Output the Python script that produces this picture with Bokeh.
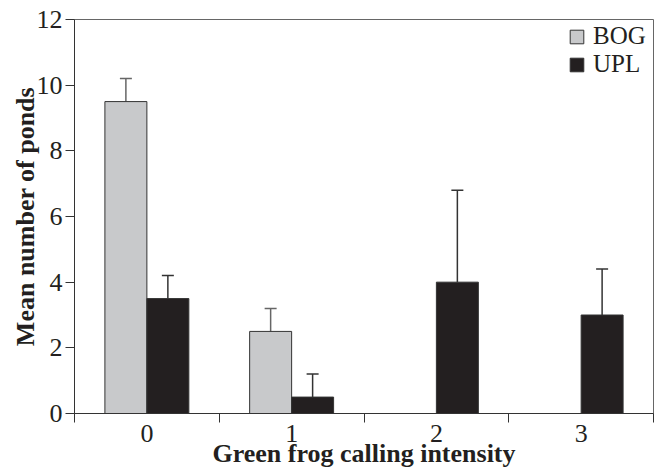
from bokeh.plotting import figure
from bokeh.models import (ColumnDataSource, Whisker, FixedTicker, TeeHead,
                          Legend, LegendItem, Range1d)
from bokeh.embed import file_html
from bokeh.resources import INLINE

# ---- data ----
categories = [0, 1, 2, 3]
tick_labels = ["0", "1", "2", "3"]
bog_mean = [9.5, 2.5, 0.0, 0.0]
bog_err = [0.7, 0.7, 0.0, 0.0]
upl_mean = [3.5, 0.5, 4.0, 3.0]
upl_err = [0.7, 0.7, 2.8, 1.4]
y_ticks = [0, 2, 4, 6, 8, 10, 12]

FONT = "Liberation Serif"
BOG_COLOR = "#c8c9cb"
UPL_COLOR = "#231f20"
OFF = 0.145
BW = 0.29

p = figure(frame_width=579, frame_height=394,
           x_range=Range1d(-0.5, 3.5), y_range=Range1d(0, 12),
           output_backend="svg", toolbar_location=None,
           min_border_left=74, min_border_top=19, min_border_right=4,
           min_border_bottom=10)

bog_src = ColumnDataSource(dict(
    x=[c - OFF for c in categories], top=bog_mean))
upl_src = ColumnDataSource(dict(
    x=[c + OFF for c in categories], top=upl_mean))

r_bog = p.vbar(x="x", top="top", width=BW, source=bog_src,
               fill_color=BOG_COLOR, line_color="#333333", line_width=1)
r_upl = p.vbar(x="x", top="top", width=BW, source=upl_src,
               fill_color=UPL_COLOR, line_color="#333333", line_width=1)

# error bars (only where a bar exists)
bog_w = ColumnDataSource(dict(
    x=[c - OFF for c, m in zip(categories, bog_mean) if m > 0],
    lower=[m for m in bog_mean if m > 0],
    upper=[m + e for m, e in zip(bog_mean, bog_err) if m > 0]))
upl_w = ColumnDataSource(dict(
    x=[c + OFF for c, m in zip(categories, upl_mean) if m > 0],
    lower=[m for m in upl_mean if m > 0],
    upper=[m + e for m, e in zip(upl_mean, upl_err) if m > 0]))
for src, col in ((bog_w, "#666666"), (upl_w, "#333333")):
    w = Whisker(base="x", lower="lower", upper="upper", source=src,
                line_color=col, line_width=1.5,
                upper_head=TeeHead(size=12, line_color=col, line_width=1.5),
                lower_head=None)
    p.add_layout(w)

# axes
p.xgrid.visible = False
p.ygrid.visible = False
p.outline_line_color = "#666666"
p.outline_line_width = 1

xa = p.xaxis[0]
xa.ticker = FixedTicker(ticks=categories,
                        minor_ticks=[c - 0.5 for c in categories] + [categories[-1] + 0.5])
xa.major_label_overrides = {c: t for c, t in zip(categories, tick_labels)}
xa.major_tick_out = 0
xa.major_tick_in = 0
xa.minor_tick_out = 9
xa.minor_tick_in = 0
xa.minor_tick_line_color = "#333333"
xa.axis_line_color = "#333333"
xa.major_label_standoff = 2
xa.major_label_text_font = FONT
xa.major_label_text_font_size = "26px"
xa.major_label_text_color = "#231f20"
xa.axis_label = "Green frog calling intensity"
xa.axis_label_text_font = FONT
xa.axis_label_text_font_size = "26px"
xa.axis_label_text_font_style = "bold"
xa.axis_label_text_color = "#231f20"
xa.axis_label_standoff = -6

ya = p.yaxis[0]
ya.ticker = FixedTicker(ticks=y_ticks)
ya.major_tick_out = 9
ya.major_tick_in = 0
ya.minor_tick_out = 0
ya.minor_tick_in = 0
ya.major_tick_line_color = "#333333"
ya.axis_line_color = "#333333"
ya.major_label_standoff = 3
ya.major_label_text_font = FONT
ya.major_label_text_font_size = "26px"
ya.major_label_text_color = "#231f20"
ya.axis_label = "Mean number of ponds"
ya.axis_label_text_font = FONT
ya.axis_label_text_font_size = "26px"
ya.axis_label_text_font_style = "bold"
ya.axis_label_text_color = "#231f20"
ya.axis_label_standoff = -6

legend_style = dict(border_line_color=None, background_fill_alpha=0,
                    glyph_width=17, glyph_height=17, label_text_font=FONT,
                    label_text_font_size="25px", label_text_color="#231f20",
                    label_standoff=8, spacing=0, padding=0, margin=0,
                    label_height=20)
leg_bog = Legend(items=[LegendItem(label="BOG", renderers=[r_bog])],
                 location=(494, 363), **legend_style)
leg_upl = Legend(items=[LegendItem(label="UPL", renderers=[r_upl])],
                 location=(494, 335), **legend_style)
p.add_layout(leg_bog)
p.add_layout(leg_upl)

open("out.html", "w").write(file_html(p, INLINE))
